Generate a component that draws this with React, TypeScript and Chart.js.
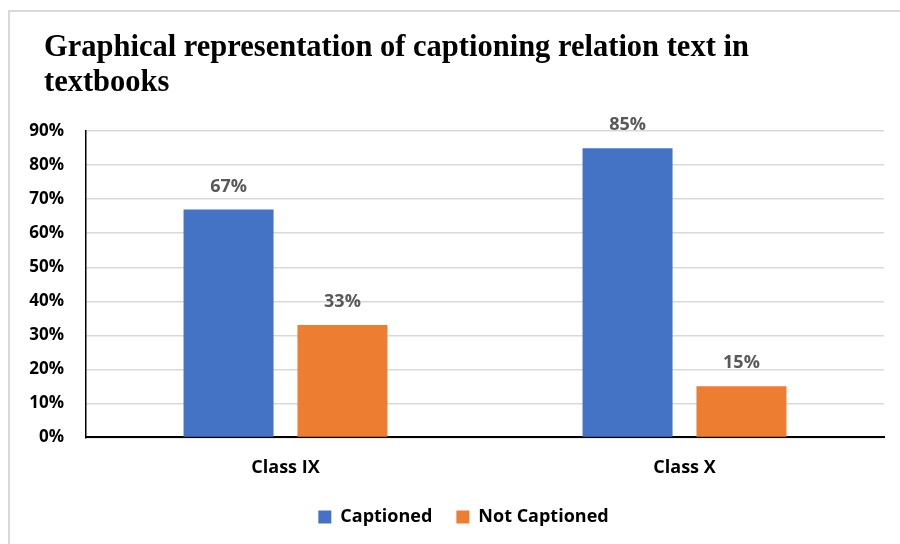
import React, { useEffect, useRef } from "react";
import { Chart, registerables } from "chart.js";

Chart.register(...registerables);

const categories = ["Class IX", "Class X"];
const captioned = [67, 85];
const notCaptioned = [33, 15];
const seriesNames = ["Captioned", "Not Captioned"];
const titleLines = ["Graphical representation of captioning relation text in", "textbooks"];

const SANS = "'Open Sans', 'DejaVu Sans', sans-serif";

const valueLabels = {
  id: "valueLabels",
  afterDatasetsDraw(chart: any) {
    const ctx = chart.ctx;
    ctx.save();
    ctx.font = `bold 18px ${SANS}`;
    ctx.fillStyle = "#595959";
    ctx.textAlign = "center";
    ctx.textBaseline = "middle";
    chart.data.datasets.forEach((ds: any, i: number) => {
      const meta = chart.getDatasetMeta(i);
      meta.data.forEach((bar: any, j: number) => {
        ctx.fillText(`${ds.data[j]}%`, bar.x, bar.y - 23);
      });
    });
    ctx.restore();
  },
};

const boxOffsets = {
  id: "boxOffsets",
  afterLayout(chart: any) {
    const t = chart.titleBlock;
    if (t) {
      const w = t.right - t.left;
      t.left = 34;
      t.right = 34 + w;
    }
    const l = chart.legend;
    if (l) {
      l.left += 9;
      l.right += 9;
      if (l.legendHitBoxes) l.legendHitBoxes.forEach((h: any) => { h.left += 9; });
    }
  },
};

export default function App() {
  const ref = useRef<HTMLCanvasElement>(null);
  useEffect(() => {
    if (!ref.current) return;
    const chart = new Chart(ref.current, {
      type: "bar",
      data: {
        labels: categories,
        datasets: [
          { label: seriesNames[0], data: captioned, backgroundColor: "#4472C4" },
          { label: seriesNames[1], data: notCaptioned, backgroundColor: "#ED7D31" },
        ],
      },
      options: {
        animation: false,
        responsive: false,
        maintainAspectRatio: false,
        layout: { padding: { left: 15, right: 16, top: 0, bottom: 8 } },
        datasets: { bar: { categoryPercentage: 0.571, barPercentage: 0.79 } },
        plugins: {
          title: {
            display: true,
            text: titleLines,
            align: "start",
            color: "#000",
            font: { family: "'Liberation Serif', 'Times New Roman', serif", size: 30.5, weight: "bold", lineHeight: 1.15 },
            padding: { top: 19, bottom: 30 },
          },
          legend: {
            position: "bottom",
            labels: {
              color: "#000",
              font: { family: SANS, size: 18, weight: "bold" },
              boxWidth: 13,
              boxHeight: 13,
              padding: 24,
            },
          },
          tooltip: { enabled: false },
        },
        scales: {
          x: {
            grid: { display: false },
            border: { display: true, color: "#000", width: 2 },
            afterFit: (s: any) => { s.height -= 7; },
            ticks: { color: "#000", font: { family: SANS, size: 18, weight: "bold" }, padding: 12 },
          },
          y: {
            min: 0,
            max: 90,
            afterFit: (s: any) => { s.width = 61; },
            grid: { color: "#d9d9d9", lineWidth: 1.5, drawTicks: false },
            border: { display: true, color: "#000", width: 1.5 },
            ticks: {
              stepSize: 10,
              padding: 22,
              color: "#000",
              font: { family: SANS, size: 17, weight: "bold" },
              callback: (v: any) => `${v}%`,
            },
          },
        },
      },
      plugins: [valueLabels, boxOffsets],
    });
    return () => chart.destroy();
  }, []);
  return (
    <div
      style={{
        position: "fixed",
        left: 8,
        top: 10,
        width: 892,
        height: 534,
        borderLeft: "2px solid #d9d9d9",
        borderTop: "2px solid #d9d9d9",
        background: "#fff",
      }}
    >
      <canvas ref={ref} width={890} height={532} style={{ display: "block" }} />
    </div>
  );
}
